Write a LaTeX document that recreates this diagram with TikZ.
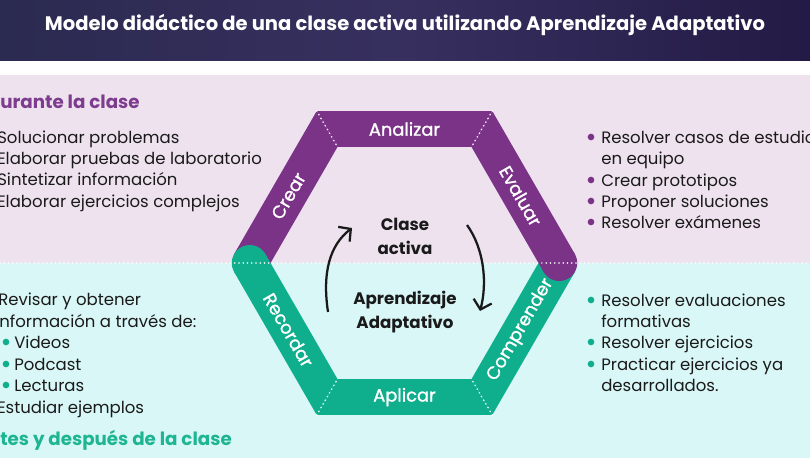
\documentclass[tikz,border=0pt]{standalone}
\usepackage{fontspec}
\setmainfont{Poppins}
\newfontfamily\medfont{Poppins}[FakeBold=1.2]
\usetikzlibrary{calc,arrows.meta}
\definecolor{purp}{HTML}{7B3388}
\definecolor{purph}{HTML}{7D3C8E}
\definecolor{grn}{HTML}{0FAF8E}
\definecolor{grnh}{HTML}{1DB592}
\definecolor{pinkbg}{HTML}{EEE2EF}
\definecolor{cyanbg}{HTML}{D9F7F7}
\definecolor{ink}{HTML}{1A1A1A}
\definecolor{hdrL}{HTML}{2B2A50}
\definecolor{hdrM}{HTML}{37305F}
\definecolor{hdrR}{HTML}{231A45}
\begin{document}
\begin{tikzpicture}[x=0.75pt,y=-0.75pt,
  txt/.style={anchor=base west,inner sep=0pt,text=ink,font=\fontsize{12.4}{14}\selectfont},
  head/.style={anchor=base west,inner sep=0pt,font=\fontsize{13.7}{15}\selectfont\bfseries},
  lbl/.style={inner sep=0pt,text=white,font=\fontsize{13.4}{15}\medfont},
  ctr/.style={inner sep=0pt,text=ink,align=center,font=\fontsize{12.5}{18}\selectfont\bfseries},
  dotw/.style={white,line width=1.3pt,dash pattern=on 0pt off 3.2pt,line cap=round},
  arr/.style={ink,line width=1.7pt,-{Straight Barb[length=6.5pt,width=14pt,line width=1.7pt]}},
  pdot/.style={circle,fill=purp,inner sep=0pt,minimum size=5pt},
  gdot/.style={circle,fill=grn,inner sep=0pt,minimum size=5pt}]
\useasboundingbox (0,0) rectangle (810,461);
\clip (0,0) rectangle (810,461);
% backgrounds
\fill[white] (0,0) rectangle (810,461);
\shade[left color=hdrL,right color=hdrR,middle color=hdrM] (0,0) rectangle (810,60);
\fill[pinkbg] (0,75) rectangle (810,263);
\fill[cyanbg] (0,263) rectangle (810,458);
\node[inner sep=0pt,text=white,font=\fontsize{14.65}{16}\selectfont\bfseries] (title) at (405,25) {Modelo didáctico de una clase activa utilizando Aprendizaje Adaptativo};
% hexagon geometry
\coordinate (C) at (404.5,263);
\foreach \n/\a in {R/0,BR/60,BL/120,L/180,TL/240,TR/300}{
  \coordinate (O\n) at ($(C)+(\a:175.5)$);
  \coordinate (I\n) at ($(C)+(\a:134)$);
  \coordinate (M\n) at ($(C)+(\a:154.75)$);
}
% bands
\fill[purp] (OTL) -- (ITL) -- ($(ML)+(30:18)$) -- ($(ML)+(-150:18)$) -- cycle;
\fill[grn] (OBR) -- (IBR) -- ($(MR)+(210:18)$) -- ($(MR)+(30:18)$) -- cycle;
\fill[purp] (OTL) -- (OTR) -- (ITR) -- (ITL) -- cycle;
\fill[grn] (OBL) -- (OBR) -- (IBR) -- (IBL) -- cycle;
\fill[grn] (OBL) -- (IBL) -- ($(ML)+(-30:18)$) -- ($(ML)+(150:18)$) -- cycle;
\fill[grn] (ML) circle[radius=18];
\fill[purp] (OTR) -- (ITR) -- ($(MR)+(150:18)$) -- ($(MR)+(330:18)$) -- cycle;
\fill[purp] (MR) circle[radius=18];
\draw[dotw] (OTL) -- (ITL);
\draw[dotw] (OTR) -- (ITR);
\draw[dotw] (OBL) -- (IBL);
\draw[dotw] (OBR) -- (IBR);
\coordinate (dl) at (0,263);
\coordinate (dr) at (810,263);
\draw[dotw] (dl) -- (dr);
% band labels
\node[lbl] (analizar) at ($(MTL)!0.5!(MTR)$) {Analizar};
\node[lbl] (aplicar) at ($(MBL)!0.5!(MBR)$) {Aplicar};
\node[lbl,rotate=60] (crear) at ($(ML)!0.5!(MTL)$) {Crear};
\node[lbl,rotate=-60] (evaluar) at ($(MR)!0.5!(MTR)$) {Evaluar};
\node[lbl,rotate=-60] (recordar) at ($(ML)!0.5!(MBL)$) {Recordar};
\node[lbl,rotate=60] (comprender) at ($(MR)!0.5!(MBR)$) {Comprender};
% centre
\node[ctr] (clase) at (405,236) {Clase\\activa};
\node[ctr] (aprend) at (405,312) {Aprendizaje\\Adaptativo};
\coordinate (a1s) at (328,312);
\coordinate (a1e) at (352,228);
\coordinate (a2s) at (467,225);
\coordinate (a2e) at (480,311);
\draw[arr] (a1s) .. controls (322,272) and (330,245) .. (a1e);
\draw[arr] (a2s) .. controls (485,250) and (487,285) .. (a2e);
% left top
\node[head,text=purph] (h1) at (0,108) {urante la clase};
\node[txt] (l1) at (-3,143) {Solucionar problemas};
\node[txt] (l2) at (-3,164) {Elaborar pruebas de laboratorio};
\node[txt] (l3) at (-3,185) {Sintetizar información};
\node[txt] (l4) at (-3,207) {Elaborar ejercicios complejos};
% right top
\node[txt] (r1) at (601,143) {Resolver casos de estudio};
\node[txt] (r1b) at (601,164) {en equipo};
\node[txt] (r2) at (601,186) {Crear prototipos};
\node[txt] (r3) at (601,207) {Proponer soluciones};
\node[txt] (r4) at (601,228) {Resolver exámenes};
\node[pdot] (pd1) at (591,137) {};
\node[pdot] (pd2) at (591,180) {};
\node[pdot] (pd3) at (591,201) {};
\node[pdot] (pd4) at (591,222) {};
% left bottom
\node[txt] (b1) at (-2,305) {Revisar y obtener};
\node[txt] (b1b) at (-1,327) {nformación a través de:};
\node[txt] (b2) at (14,348) {Videos};
\node[txt] (b3) at (14,370) {Podcast};
\node[txt] (b4) at (14,391) {Lecturas};
\node[txt] (b5) at (-3,413) {Estudiar ejemplos};
\node[gdot] (gd1) at (6,342) {};
\node[gdot] (gd2) at (6,364) {};
\node[gdot] (gd3) at (6,385) {};
\node[head,text=grnh] (h2) at (0,445) {tes y después de la clase};
% right bottom
\node[txt] (s1) at (601,306) {Resolver evaluaciones};
\node[txt] (s1b) at (601,327) {formativas};
\node[txt] (s2) at (601,348) {Resolver ejercicios};
\node[txt] (s3) at (601,370) {Practicar ejercicios ya};
\node[txt] (s3b) at (601,391) {desarrollados.};
\node[gdot] (gd4) at (591,300) {};
\node[gdot] (gd5) at (591,342) {};
\node[gdot] (gd6) at (591,364) {};
\end{tikzpicture}
\end{document}
